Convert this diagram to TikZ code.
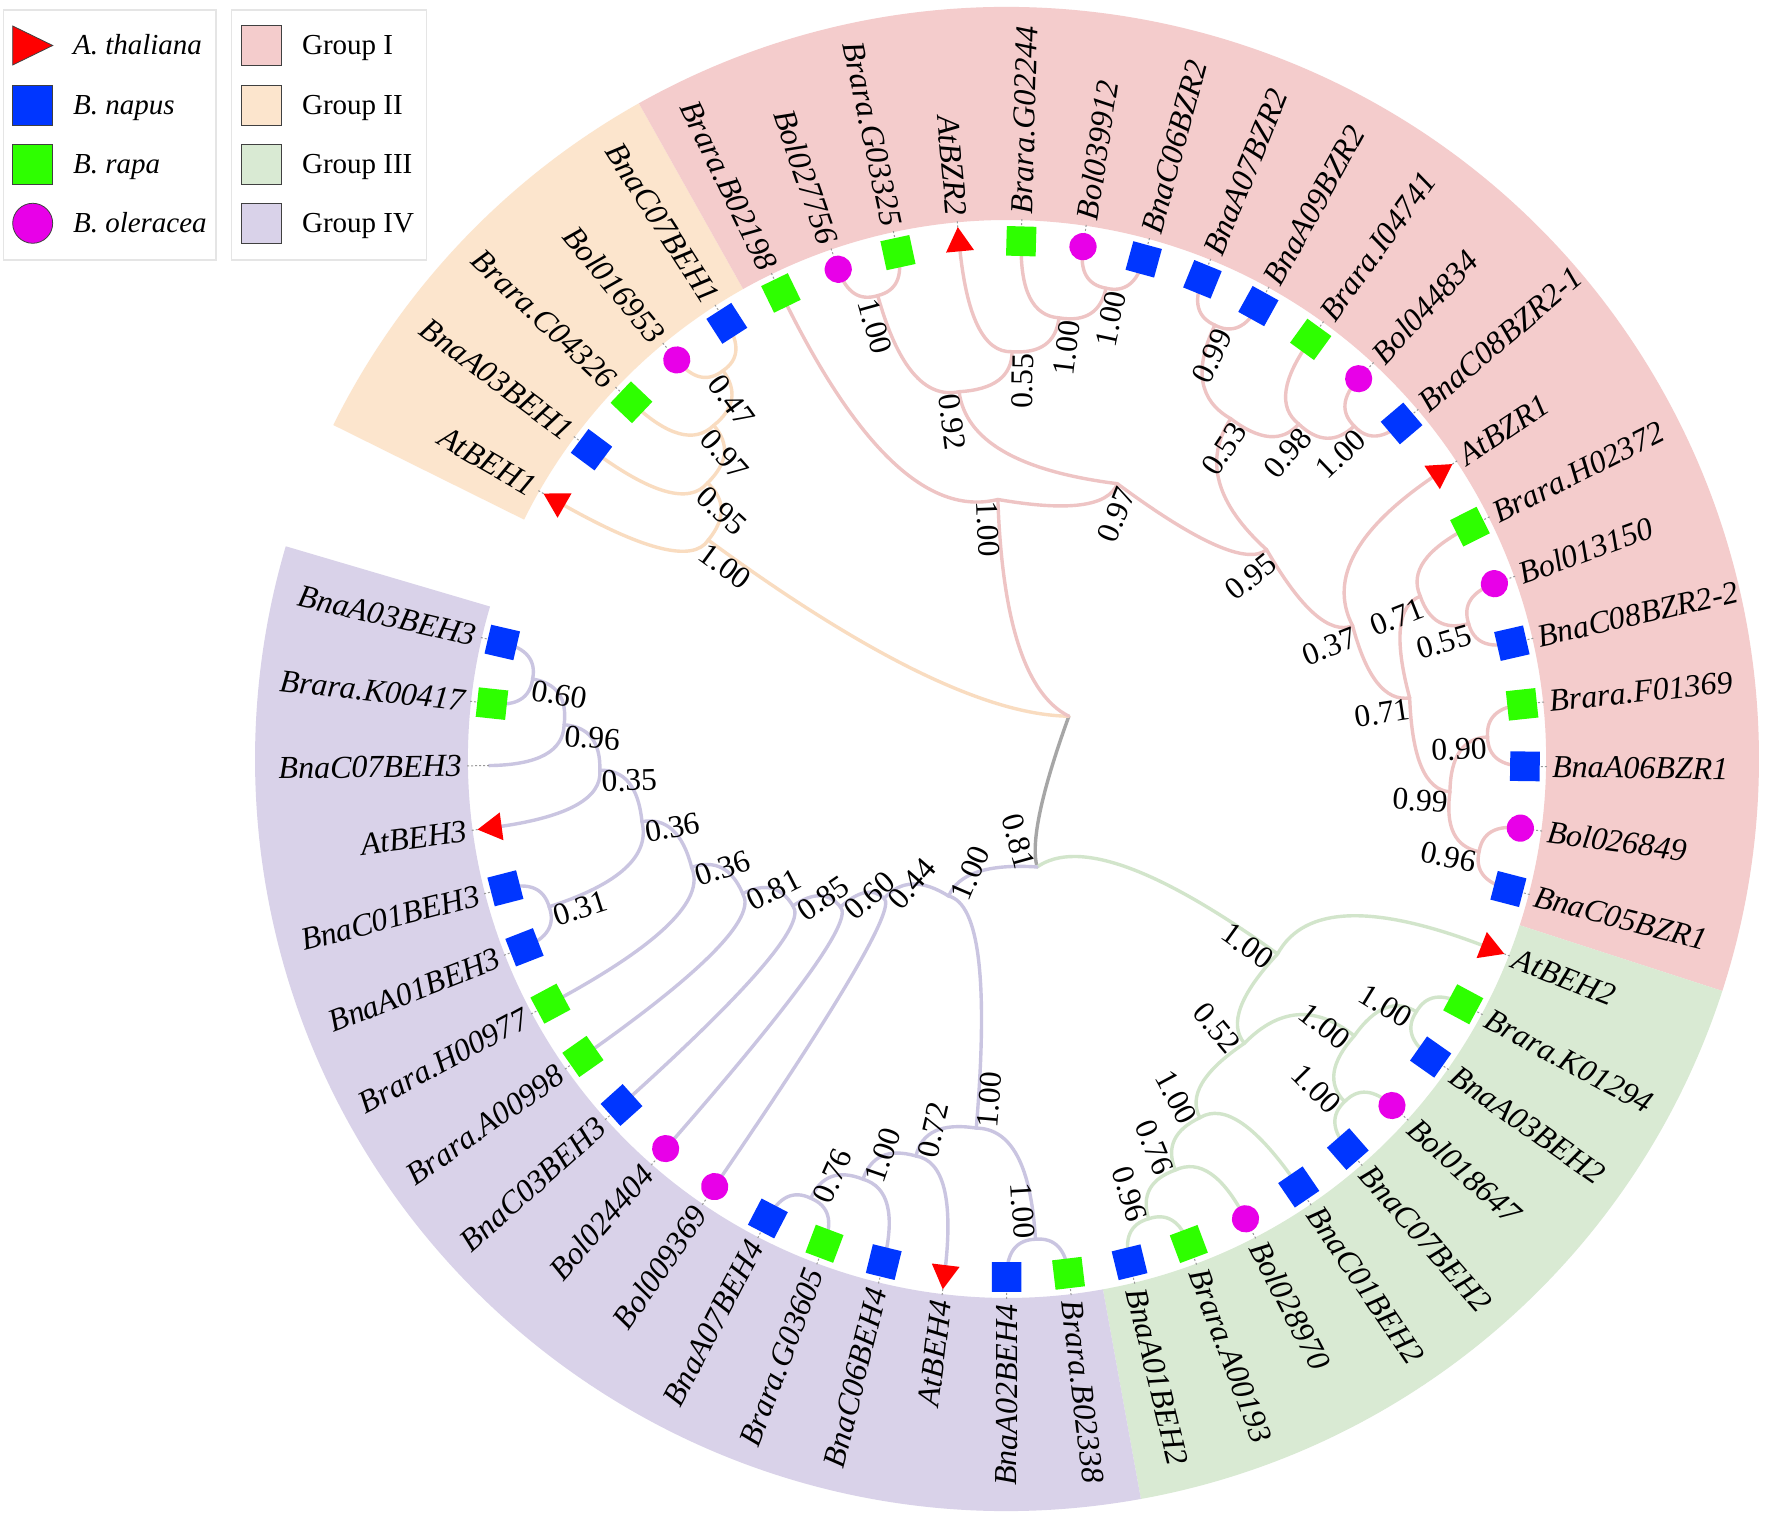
\documentclass[tikz,border=0pt]{standalone}
\usepackage{fontspec}
\setmainfont{Liberation Serif}
\usetikzlibrary{calc,shapes.geometric}
\definecolor{bandI}{HTML}{F4CCCC}
\definecolor{bandII}{HTML}{FCE5CD}
\definecolor{bandIII}{HTML}{D9EAD3}
\definecolor{bandIV}{HTML}{D9D2E9}
\definecolor{lnI}{HTML}{EEC4C4}
\definecolor{lnII}{HTML}{F9DCC0}
\definecolor{lnIII}{HTML}{D2E5CB}
\definecolor{lnIV}{HTML}{CAC5E1}
\definecolor{lnroot}{HTML}{A6A6A6}
\definecolor{cred}{HTML}{FF0000}
\definecolor{cblue}{HTML}{0036FF}
\definecolor{cgreen}{HTML}{2EFF00}
\definecolor{cmag}{HTML}{E800E8}
% edge: parent, child, child angle, parent radius, style
\newcommand\tedge[5]{\draw[#5] (#1) .. controls ($(#1)!0.6667!(#3:#4)$) and ($(#2)!0.6667!(#3:#4)$) .. (#2);}
\newcommand\band[3]{\fill[#3] (#1:539) arc[start angle=#1, end angle=#2, radius=269.5pt] -- (#2:752) arc[start angle=#2, end angle=#1, radius=376pt] -- cycle;}
\def\leaflist{0/150.2/AtBEH1/mkt, 1/143.336/BnaA03BEH1/mkb, 2/136.472/Brara.C04326/mkg, 3/129.608/Bol016953/mkm, 4/122.744/BnaC07BEH1/mkb, 5/115.88/Brara.B02198/mkg, 6/109.016/Bol027756/mkm, 7/102.152/Brara.G03325/mkg, 8/95.288/AtBZR2/mkt, 9/88.424/Brara.G02244/mkg, 10/81.56/Bol039912/mkm, 11/74.696/BnaC06BZR2/mkb, 12/67.832/BnaA07BZR2/mkb, 13/60.968/BnaA09BZR2/mkb, 14/54.104/Brara.I04741/mkg, 15/47.24/Bol044834/mkm, 16/40.376/BnaC08BZR2-1/mkb, 17/33.512/AtBZR1/mkt, 18/26.648/Brara.H02372/mkg, 19/19.784/Bol013150/mkm, 20/12.92/BnaC08BZR2-2/mkb, 21/6.056/Brara.F01369/mkg, 22/-0.808/BnaA06BZR1/mkb, 23/-7.672/Bol026849/mkm, 24/-14.536/BnaC05BZR1/mkb, 25/-21.4/AtBEH2/mkt, 26/-28.264/Brara.K01294/mkg, 27/-35.128/BnaA03BEH2/mkb, 28/-41.992/Bol018647/mkm, 29/-48.856/BnaC07BEH2/mkb, 30/-55.72/BnaC01BEH2/mkb, 31/-62.584/Bol028970/mkm, 32/-69.448/Brara.A00193/mkg, 33/-76.312/BnaA01BEH2/mkb, 34/-83.176/Brara.B02338/mkg, 35/-90.04/BnaA02BEH4/mkb, 36/-96.904/AtBEH4/mkt, 37/-103.768/BnaC06BEH4/mkb, 38/-110.632/Brara.G03605/mkg, 39/-117.496/BnaA07BEH4/mkb, 40/-124.36/Bol009369/mkm, 41/-131.224/Bol024404/mkm, 42/-138.088/BnaC03BEH3/mkb, 43/-144.952/Brara.A00998/mkg, 44/-151.816/Brara.H00977/mkg, 45/-158.68/BnaA01BEH3/mkb, 46/-165.544/BnaC01BEH3/mkb, 47/-172.408/AtBEH3/mkt, 48/-179.272/BnaC07BEH3/mkn, 49/-186.136/Brara.K00417/mkg, 50/-193.0/BnaA03BEH3/mkb}
\def\innerlist{O1/126.176/481.1/0.47, O2/131.324/444.2/0.97, O3/137.33/407.3/0.95, O4/143.765/370.4/1.00, P0/92.017/259.7/1.00, P1/68.154/296.6/0.97, P2/97.433/370.4/0.92, P3/38.8745/333.5/0.95, P4/105.584/481.1/1.00, P5/89.282/407.3/0.55, P6/83.276/444.2/1.00, P7/78.128/481.1/1.00, P8/56.678/407.3/0.53, P9/21.071/370.4/0.37, P10/64.4/481.1/0.99, P11/48.956/444.2/0.98, P12/43.808/481.1/1.00, P13/8.63/407.3/0.71, P14/21.5/444.2/0.71, P15/16.352/481.1/0.55, P16/-4.24/444.2/0.99, P17/2.624/481.1/0.90, P18/-11.104/481.1/0.96, GT/-35.7715/333.5/1.00, G1/-50.143/370.4/0.52, G2/-38.56/444.2/1.00, G3/-61.726/407.3/1.00, G4/-31.696/481.1/1.00, G5/-45.424/481.1/1.00, G6/-67.732/444.2/0.76, G7/-72.88/481.1/0.96, Q1/-86.608/481.1/1.00, Q2/-114.064/481.1/0.76, Q3/-108.916/444.2/1.00, Q4/-102.91/407.3/0.72, Q5/-94.759/370.4/1.00, Q7/-189.568/481.1/0.60, Q8/-184.42/444.2/0.96, Q9/-178.414/407.3/0.35, Q10/-162.112/481.1/0.31, Q11/-170.263/370.4/0.36, Q12/-161.04/333.5/0.36, Q13/-152.996/296.6/0.81, Q14/-145.542/259.7/0.85, Q15/-138.383/222.8/0.60, Q16/-131.372/185.9/0.44, Q17/-113.065/149/1.00, N34/-74.418/112.1/0.81}
\begin{document}
\begin{tikzpicture}[x=0.5pt,y=0.5pt,
  tree/.style={line width=1.7pt, line cap=round},
  eI/.style={tree, draw=lnI}, eII/.style={tree, draw=lnII},
  eIII/.style={tree, draw=lnIII}, eIV/.style={tree, draw=lnIV},
  eR/.style={tree, draw=lnroot},
  mkb/.style={rectangle, fill=cblue, inner sep=0pt, minimum size=14.8pt},
  mkg/.style={rectangle, fill=cgreen, inner sep=0pt, minimum size=14.8pt},
  mkm/.style={circle, fill=cmag, inner sep=0pt, minimum size=13.6pt},
  mkt/.style={regular polygon, regular polygon sides=3, fill=cred, inner sep=0pt, minimum size=16.2pt, rotate=-90},
  mkn/.style={inner sep=0pt, minimum size=0pt},
  leader/.style={draw=gray!80, line width=0.5pt, dash pattern=on 1pt off 1pt},
  leaflab/.style={inner sep=0pt, font=\fontsize{16pt}{18pt}\selectfont\itshape},
  bslab/.style={inner sep=0pt, font=\fontsize{15.8pt}{17pt}\selectfont},
  legtxt/.style={anchor=base west, inner sep=0pt, font=\fontsize{14.5pt}{17pt}\selectfont},
  legbox/.style={draw=black!10, line width=0.6pt},
  legsq/.style={rectangle, draw=black!75, line width=0.4pt, minimum size=20pt, inner sep=0pt}
]
\useasboundingbox (-1007,-765) rectangle (765,759);
\fill[white] (-1007,-765) rectangle (765,759);
% group bands
\band{119.312}{153.632}{bandII}
\band{-17.968}{119.312}{bandI}
\band{-79.744}{-17.968}{bandIII}
\band{-196.432}{-79.744}{bandIV}
% coordinates
\foreach \nm/\ang/\lab/\mk in \leaflist {\coordinate (L\nm) at (\ang:518); \coordinate (A\nm) at (\ang:542);}
\foreach \nm/\ang/\rad/\lab in \innerlist {\coordinate (\nm) at (\ang:\rad);}
\coordinate (R) at (34.67:75.2);
% root
\tedge{R}{N34}{-74.418}{75.2}{eR}
\tedge{R}{O4}{143.765}{75.2}{eII}
\tedge{R}{P0}{92.017}{75.2}{eI}
% group II
\tedge{O4}{O3}{137.33}{370.4}{eII}
\tedge{O4}{L0}{150.2}{370.4}{eII}
\tedge{O3}{O2}{131.324}{407.3}{eII}
\tedge{O3}{L1}{143.336}{407.3}{eII}
\tedge{O2}{O1}{126.176}{444.2}{eII}
\tedge{O2}{L2}{136.472}{444.2}{eII}
\tedge{O1}{L3}{129.608}{481.1}{eII}
\tedge{O1}{L4}{122.744}{481.1}{eII}
% group I
\tedge{P0}{L5}{115.88}{259.7}{eI}
\tedge{P0}{P1}{68.154}{259.7}{eI}
\tedge{P1}{P2}{97.433}{296.6}{eI}
\tedge{P1}{P3}{38.8745}{296.6}{eI}
\tedge{P2}{P4}{105.584}{370.4}{eI}
\tedge{P2}{P5}{89.282}{370.4}{eI}
\tedge{P4}{L6}{109.016}{481.1}{eI}
\tedge{P4}{L7}{102.152}{481.1}{eI}
\tedge{P5}{L8}{95.288}{407.3}{eI}
\tedge{P5}{P6}{83.276}{407.3}{eI}
\tedge{P6}{L9}{88.424}{444.2}{eI}
\tedge{P6}{P7}{78.128}{444.2}{eI}
\tedge{P7}{L10}{81.56}{481.1}{eI}
\tedge{P7}{L11}{74.696}{481.1}{eI}
\tedge{P3}{P8}{56.678}{333.5}{eI}
\tedge{P3}{P9}{21.071}{333.5}{eI}
\tedge{P8}{P10}{64.4}{407.3}{eI}
\tedge{P8}{P11}{48.956}{407.3}{eI}
\tedge{P10}{L12}{67.832}{481.1}{eI}
\tedge{P10}{L13}{60.968}{481.1}{eI}
\tedge{P11}{L14}{54.104}{444.2}{eI}
\tedge{P11}{P12}{43.808}{444.2}{eI}
\tedge{P12}{L15}{47.24}{481.1}{eI}
\tedge{P12}{L16}{40.376}{481.1}{eI}
\tedge{P9}{L17}{33.512}{370.4}{eI}
\tedge{P9}{P13}{8.63}{370.4}{eI}
\tedge{P13}{P14}{21.5}{407.3}{eI}
\tedge{P13}{P16}{-4.24}{407.3}{eI}
\tedge{P14}{L18}{26.648}{444.2}{eI}
\tedge{P14}{P15}{16.352}{444.2}{eI}
\tedge{P15}{L19}{19.784}{481.1}{eI}
\tedge{P15}{L20}{12.92}{481.1}{eI}
\tedge{P16}{P17}{2.624}{444.2}{eI}
\tedge{P16}{P18}{-11.104}{444.2}{eI}
\tedge{P17}{L21}{6.056}{481.1}{eI}
\tedge{P17}{L22}{-0.808}{481.1}{eI}
\tedge{P18}{L23}{-7.672}{481.1}{eI}
\tedge{P18}{L24}{-14.536}{481.1}{eI}
% group III
\tedge{N34}{GT}{-35.7715}{112.1}{eIII}
\tedge{GT}{L25}{-21.4}{333.5}{eIII}
\tedge{GT}{G1}{-50.143}{333.5}{eIII}
\tedge{G1}{G2}{-38.56}{370.4}{eIII}
\tedge{G1}{G3}{-61.726}{370.4}{eIII}
\tedge{G2}{G4}{-31.696}{444.2}{eIII}
\tedge{G2}{G5}{-45.424}{444.2}{eIII}
\tedge{G4}{L26}{-28.264}{481.1}{eIII}
\tedge{G4}{L27}{-35.128}{481.1}{eIII}
\tedge{G5}{L28}{-41.992}{481.1}{eIII}
\tedge{G5}{L29}{-48.856}{481.1}{eIII}
\tedge{G3}{G6}{-67.732}{407.3}{eIII}
\tedge{G3}{L30}{-55.72}{407.3}{eIII}
\tedge{G6}{G7}{-72.88}{444.2}{eIII}
\tedge{G6}{L31}{-62.584}{444.2}{eIII}
\tedge{G7}{L32}{-69.448}{481.1}{eIII}
\tedge{G7}{L33}{-76.312}{481.1}{eIII}
% group IV
\tedge{N34}{Q17}{-113.065}{112.1}{eIV}
\tedge{Q17}{Q16}{-131.372}{149}{eIV}
\tedge{Q17}{Q5}{-94.759}{149}{eIV}
\tedge{Q5}{Q4}{-102.91}{370.4}{eIV}
\tedge{Q5}{Q1}{-86.608}{370.4}{eIV}
\tedge{Q1}{L34}{-83.176}{481.1}{eIV}
\tedge{Q1}{L35}{-90.04}{481.1}{eIV}
\tedge{Q4}{Q3}{-108.916}{407.3}{eIV}
\tedge{Q4}{L36}{-96.904}{407.3}{eIV}
\tedge{Q3}{Q2}{-114.064}{444.2}{eIV}
\tedge{Q3}{L37}{-103.768}{444.2}{eIV}
\tedge{Q2}{L38}{-110.632}{481.1}{eIV}
\tedge{Q2}{L39}{-117.496}{481.1}{eIV}
\tedge{Q16}{Q15}{-138.383}{185.9}{eIV}
\tedge{Q16}{L40}{-124.36}{185.9}{eIV}
\tedge{Q15}{Q14}{-145.542}{222.8}{eIV}
\tedge{Q15}{L41}{-131.224}{222.8}{eIV}
\tedge{Q14}{Q13}{-152.996}{259.7}{eIV}
\tedge{Q14}{L42}{-138.088}{259.7}{eIV}
\tedge{Q13}{Q12}{-161.04}{296.6}{eIV}
\tedge{Q13}{L43}{-144.952}{296.6}{eIV}
\tedge{Q12}{Q11}{-170.263}{333.5}{eIV}
\tedge{Q12}{L44}{-151.816}{333.5}{eIV}
\tedge{Q11}{Q9}{-178.414}{370.4}{eIV}
\tedge{Q11}{Q10}{-162.112}{370.4}{eIV}
\tedge{Q10}{L45}{-158.68}{481.1}{eIV}
\tedge{Q10}{L46}{-165.544}{481.1}{eIV}
\tedge{Q9}{Q8}{-184.42}{407.3}{eIV}
\tedge{Q9}{L47}{-172.408}{407.3}{eIV}
\tedge{Q8}{Q7}{-189.568}{444.2}{eIV}
\tedge{Q8}{L48}{-179.272}{444.2}{eIV}
\tedge{Q7}{L49}{-186.136}{481.1}{eIV}
\tedge{Q7}{L50}{-193.0}{481.1}{eIV}
% leaders
\foreach \nm/\ang/\lab/\mk in \leaflist {\draw[leader] (L\nm) -- (A\nm);}
% markers and leaf labels
\foreach \nm/\ang/\lab/\mk in \leaflist {
  \node[\mk, rotate=\ang] (M\nm) at (L\nm) {};
  \pgfmathtruncatemacro\rs{cos(\ang)>0}
  \ifnum\rs=1
    \node[leaflab, anchor=west, rotate=\ang] (T\nm) at (\ang:545) {\lab};
  \else
    \pgfmathsetmacro\rot{\ang+180}
    \node[leaflab, anchor=east, rotate=\rot] (T\nm) at (\ang:545) {\lab};
  \fi
}
% bootstrap values
\foreach \nm/\ang/\rad/\lab in \innerlist {
  \pgfmathtruncatemacro\rs{cos(\ang)>0}
  \pgfmathsetmacro\rr{\rad-29}
  \ifnum\rs=1
    \pgfmathsetmacro\aa{\ang-630.3/\rr}
    \pgfmathsetmacro\rot{\ang}
  \else
    \pgfmathsetmacro\aa{\ang+630.3/\rr}
    \pgfmathsetmacro\rot{\ang+180}
  \fi
  \node[bslab, rotate=\rot] (B\nm) at (\aa:\rr) {\lab};
}
% legend
\draw[legbox] (-1003.7,499) rectangle (-791,749);
\draw[legbox] (-775.3,499) rectangle (-580.3,749);
\filldraw[fill=cred, draw=black!75, line width=0.4pt] (-994.3,733) -- (-994.3,694) -- (-954.3,713.5) -- cycle;
\node[legsq, fill=cblue] (kb) at (-974.3,654) {};
\node[legsq, fill=cgreen] (kg) at (-974.3,594.7) {};
\node[circle, draw=black!75, line width=0.4pt, fill=cmag, minimum size=20pt, inner sep=0pt] (km) at (-974.3,535.7) {};
\node[legtxt] (kt1) at (-934.3,704) {\itshape A. thaliana};
\node[legtxt] (kt2) at (-934.3,644.5) {\itshape B. napus};
\node[legtxt] (kt3) at (-934.3,585.2) {\itshape B. rapa};
\node[legtxt] (kt4) at (-934.3,526.2) {\itshape B. oleracea};
\node[legsq, fill=bandI] (g1) at (-745.3,713.5) {};
\node[legsq, fill=bandII] (g2) at (-745.3,654) {};
\node[legsq, fill=bandIII] (g3) at (-745.3,594.7) {};
\node[legsq, fill=bandIV] (g4) at (-745.3,535.7) {};
\node[legtxt] (gt1) at (-705.3,704) {Group I};
\node[legtxt] (gt2) at (-705.3,644.5) {Group II};
\node[legtxt] (gt3) at (-705.3,585.2) {Group III};
\node[legtxt] (gt4) at (-705.3,526.2) {Group IV};
\end{tikzpicture}
\end{document}
